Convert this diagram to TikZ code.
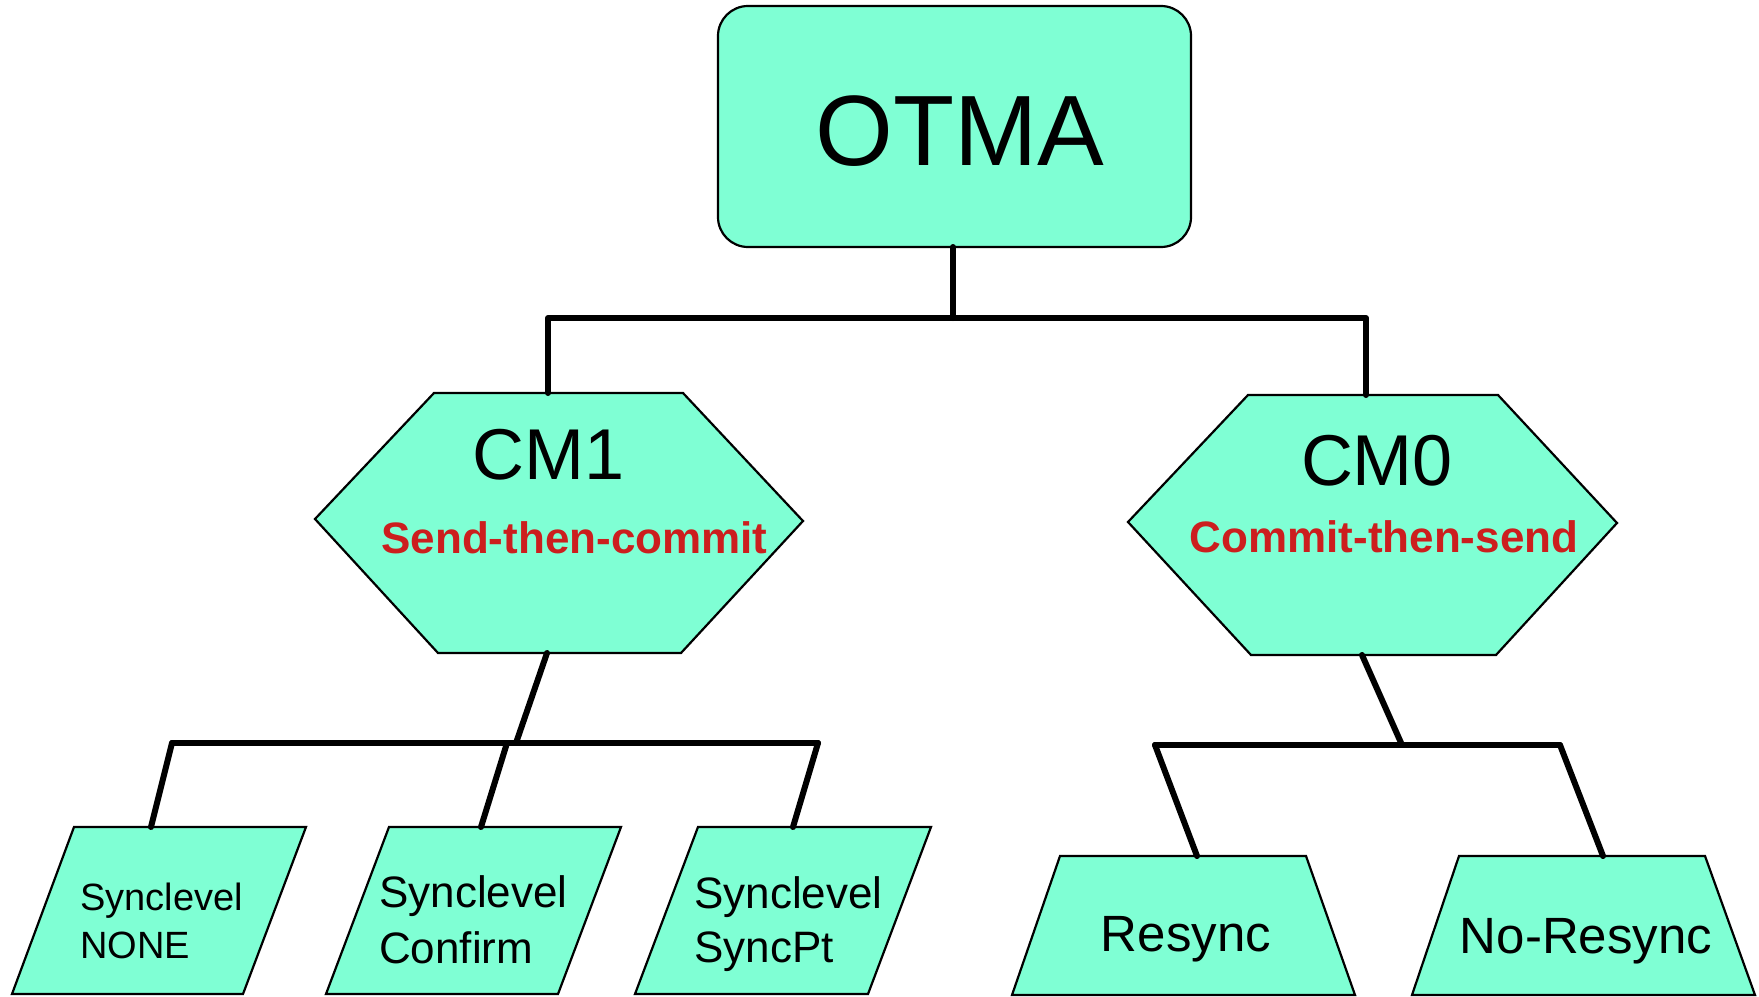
\documentclass[tikz,border=0pt]{standalone}
\usepackage{fontspec}
\setmainfont{Liberation Sans}
\definecolor{aqua}{RGB}{127,255,212}
\definecolor{redtxt}{RGB}{204,30,30}
\tikzset{
  shapebox/.style={fill=aqua, draw=black, line width=2.2pt, line join=miter},
  conn/.style={line width=6pt, line cap=round, line join=round},
  txt/.style={inner sep=0pt, anchor=base},
  txtl/.style={inner sep=0pt, anchor=base west},
}
\newcommand{\fs}[1]{\fontsize{#1}{#1}\selectfont}
\begin{document}
\begin{tikzpicture}[x=1pt, y=-1pt]
\useasboundingbox (0,0) rectangle (1759,996);

% ---- shapes ----
\draw[shapebox, rounded corners=30pt] (718,6) rectangle (1191,247);
\draw[shapebox] (434,393) -- (683,393) -- (803,521) -- (681,653) -- (438,653) -- (315,519) -- cycle;
\draw[shapebox] (1248,395) -- (1498,395) -- (1617,523) -- (1496,655) -- (1251,655) -- (1128,522) -- cycle;
\draw[shapebox] (74,827) -- (306,827) -- (243,994) -- (12,994) -- cycle;
\draw[shapebox] (389,827) -- (621,827) -- (558,994) -- (326,994) -- cycle;
\draw[shapebox] (698,827) -- (931,827) -- (868,994) -- (635,994) -- cycle;
\draw[shapebox] (1060,856) -- (1306,856) -- (1355,995) -- (1012,995) -- cycle;
\draw[shapebox] (1459,856) -- (1705,856) -- (1755,995) -- (1412,995) -- cycle;

% ---- connection points ----
\coordinate (otmab) at (953,247);
\coordinate (jt) at (953,318);
\coordinate (j1) at (548,318);
\coordinate (j2) at (1366,318);
\coordinate (cm1t) at (548,393);
\coordinate (cm0t) at (1366,395);
\coordinate (cm1b) at (547,653);
\coordinate (cm0b) at (1362,655);
\coordinate (b1m) at (516,743);
\coordinate (b1l) at (172,743);
\coordinate (b1c) at (507,743);
\coordinate (b1r) at (818,743);
\coordinate (b2m) at (1402,745);
\coordinate (b2l) at (1155,745);
\coordinate (b2r) at (1560,745);
\coordinate (nonet) at (151,827);
\coordinate (conft) at (481,827);
\coordinate (synct) at (793,827);
\coordinate (rest) at (1197,856);
\coordinate (nrest) at (1603,856);

% ---- connectors ----
\draw[conn] (otmab) -- (jt);
\draw[conn] (cm1t) -- (j1) -- (j2) -- (cm0t);
\draw[conn] (cm1b) -- (b1m);
\draw[conn] (b1l) -- (b1r);
\draw[conn] (b1l) -- (nonet);
\draw[conn] (b1c) -- (conft);
\draw[conn] (b1r) -- (synct);
\draw[conn] (cm0b) -- (b2m);
\draw[conn] (b2l) -- (b2r);
\draw[conn] (b2l) -- (rest);
\draw[conn] (b2r) -- (nrest);

% ---- texts ----
\node[txt, font=\fs{100}] (otma) at (960,165) {OTMA};
\node[txt, font=\fs{72}] (cm1) at (549,479) {CM1};
\node[txt, text=redtxt, font=\fs{44}\bfseries] (stc) at (574.5,553) {Send-then-commit};
\node[txt, font=\fs{72}] (cm0) at (1377,485) {CM0};
\node[txt, text=redtxt, font=\fs{44}\bfseries] (cts) at (1384,552) {Commit-then-send};
\node[txtl, font=\fs{38}] (none1) at (80,910) {Synclevel};
\node[txtl, font=\fs{38}] (none2) at (80,958) {NONE};
\node[txtl, font=\fs{44}] (conf1) at (379,907) {Synclevel};
\node[txtl, font=\fs{44}] (conf2) at (379,963) {Confirm};
\node[txtl, font=\fs{44}] (sync1) at (694,908) {Synclevel};
\node[txtl, font=\fs{44}] (sync2) at (694,962) {SyncPt};
\node[txt, font=\fs{51}] (res) at (1186,951) {Resync};
\node[txt, font=\fs{51}] (nores) at (1586,953) {No-Resync};
\end{tikzpicture}
\end{document}
